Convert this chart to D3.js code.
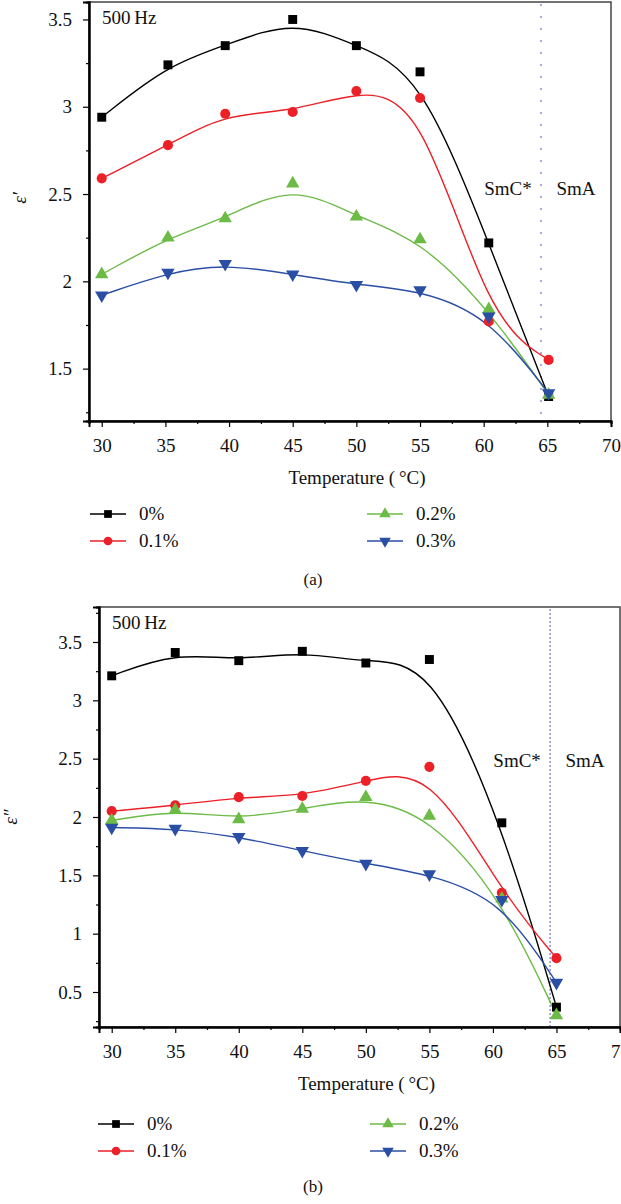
<!DOCTYPE html>
<html><head><meta charset="utf-8">
<script src="https://cdn.jsdelivr.net/npm/d3@7"></script>
<style>
html,body{margin:0;padding:0;background:#fff;}
svg{display:block;font-family:"Liberation Serif","DejaVu Serif",serif;}
</style></head>
<body>
<svg id="chart" width="621" height="1204"></svg>
<script>
// ---------- DATA ----------
const seriesNames = ["0%", "0.1%", "0.2%", "0.3%"];
const seriesColors = ["#000000", "#ec2027", "#6cbb47", "#2b4ea5"];

// panel (a) : epsilon'
const tempA = [30, 35.2, 39.7, 45, 50, 55, 60.4, 65.1];
const epsA_0  = [2.94, 3.24, 3.35, 3.50, 3.35, 3.20, 2.22, 1.34];
const epsA_01 = [2.59, 2.78, 2.96, 2.97, 3.09, 3.05, 1.77, 1.55];
const epsA_02 = [2.04, 2.25, 2.36, 2.56, 2.37, 2.24, 1.84, 1.35];
const epsA_03 = [1.92, 2.05, 2.10, 2.04, 1.98, 1.95, 1.80, 1.36];

// panel (b) : epsilon''
const tempB = [30, 35, 40, 45, 50, 55, 60.7, 65];
const epsB_0  = [3.21, 3.41, 3.34, 3.42, 3.32, 3.35, 1.95, 0.37];
const epsB_01 = [2.05, 2.10, 2.17, 2.18, 2.31, 2.43, 1.35, 0.79];
const epsB_02 = [1.97, 2.06, 1.98, 2.07, 2.17, 2.01, 1.30, 0.30];
const epsB_03 = [1.91, 1.90, 1.83, 1.71, 1.60, 1.51, 1.29, 0.58];

// ticks
const xTicks = [30, 35, 40, 45, 50, 55, 60, 65, 70];
const xMinorTicks = [32.5, 37.5, 42.5, 47.5, 52.5, 57.5, 62.5, 67.5];
const yTicksA = [1.5, 2, 2.5, 3, 3.5];
const yMinorA = [1.25, 1.75, 2.25, 2.75, 3.25];
const yTicksB = [0.5, 1, 1.5, 2, 2.5, 3, 3.5];
const yMinorB = [0.25, 0.75, 1.25, 1.75, 2.25, 2.75, 3.25, 3.75];

const transitionTemp = 64.5;
const freqLabel = "500\u2009Hz";
const xTitle = "Temperature (\u2009\u00B0C)";

// ---------- DRAW ----------
const svg = d3.select("#chart");
const FS = 19;

const shapes = [
  {type: d3.symbolSquare, size: 80, rot: 0},
  {type: d3.symbolCircle, size: 80, rot: 0},
  {type: d3.symbolTriangle, size: 78, rot: 0},
  {type: d3.symbolTriangle, size: 78, rot: 180}
];

function drawPanel(cfg) {
  const x = d3.scaleLinear().domain([29, 70]).range([cfg.left, cfg.right]);
  const y = d3.scaleLinear().domain(cfg.yDomain).range([cfg.bottom, cfg.top]);
  const g = svg.append("g");

  // frame
  g.append("rect").attr("x", cfg.left).attr("y", cfg.top)
    .attr("width", cfg.right - cfg.left).attr("height", cfg.bottom - cfg.top)
    .attr("fill", "none").attr("stroke", "#444").attr("stroke-width", 1.5);

  // transition dotted line
  g.append("line")
    .attr("x1", x(transitionTemp)).attr("x2", x(transitionTemp))
    .attr("y1", cfg.top + 2).attr("y2", cfg.bottom)
    .attr("stroke", "#7a72c6").attr("stroke-width", 1.2)
    .attr("stroke-dasharray", cfg.dash);

  // axes
  const xAx = g.append("g").attr("transform", `translate(0,${cfg.bottom})`)
    .call(d3.axisBottom(x).tickValues(xTicks).tickSize(6).tickPadding(12).tickFormat(d3.format("d")));
  const xMin = g.append("g").attr("transform", `translate(0,${cfg.bottom})`)
    .call(d3.axisBottom(x).tickValues(xMinorTicks).tickSize(3).tickFormat(""));
  const yAx = g.append("g").attr("transform", `translate(${cfg.left},0)`)
    .call(d3.axisLeft(y).tickValues(cfg.yTicks).tickSize(6).tickPadding(11).tickFormat(d3.format("~g")));
  const yMin = g.append("g").attr("transform", `translate(${cfg.left},0)`)
    .call(d3.axisLeft(y).tickValues(cfg.yMinor).tickSize(3).tickFormat(""));
  [xAx, xMin, yAx, yMin].forEach(a => {
    a.select(".domain").attr("stroke", "#000").attr("stroke-width", 2);
    a.selectAll(".tick line").attr("stroke", "#000").attr("stroke-width", 1.2);
    a.selectAll("text").attr("font-family", "Liberation Serif, serif")
      .attr("font-size", FS).attr("fill", "#111");
  });

  // series
  cfg.series.forEach((vals, i) => {
    const pts = cfg.temps.map((t, j) => [t, vals[j]]);
    const line = d3.line().x(d => x(d[0])).y(d => y(d[1])).curve(d3.curveBasis);
    g.append("path").datum(pts).attr("d", line)
      .attr("fill", "none").attr("stroke", seriesColors[i]).attr("stroke-width", 1.4);
  });
  cfg.series.forEach((vals, i) => {
    const s = shapes[i];
    const sym = d3.symbol().type(s.type).size(s.size);
    g.selectAll(null).data(cfg.temps.map((t, j) => [t, vals[j]])).enter()
      .append("path").attr("d", sym)
      .attr("transform", d => `translate(${x(d[0])},${y(d[1])}) rotate(${s.rot})`)
      .attr("fill", seriesColors[i]);
  });

  // texts
  g.append("text").attr("x", cfg.left + 13).attr("y", cfg.top + 22)
    .attr("font-size", FS).attr("fill", "#111").text(freqLabel);
  g.append("text").attr("x", x(transitionTemp) - 33).attr("y", cfg.phaseY)
    .attr("text-anchor", "middle").attr("font-size", FS).attr("fill", "#111").text("SmC*");
  g.append("text").attr("x", (x(transitionTemp) + cfg.right) / 2).attr("y", cfg.phaseY)
    .attr("text-anchor", "middle").attr("font-size", FS).attr("fill", "#111").text("SmA");

  // y label
  g.append("text").attr("transform", `translate(${cfg.yLabX},${cfg.yLabY}) rotate(-90)`)
    .attr("text-anchor", "middle").attr("font-size", FS).attr("font-style", "italic")
    .attr("fill", "#111").text(cfg.yLabel);

  // x title
  g.append("text").attr("x", (cfg.left + cfg.right) / 2 + 7).attr("y", cfg.bottom + 63)
    .attr("text-anchor", "middle").attr("font-size", FS).attr("fill", "#111").text(xTitle);

  // legend
  const legPos = [
    {lx: cfg.legL, row: 0}, {lx: cfg.legL, row: 1},
    {lx: cfg.legR, row: 0}, {lx: cfg.legR, row: 1}
  ];
  seriesNames.forEach((nm, i) => {
    const p = legPos[i];
    const ly = cfg.legY + p.row * 27;
    g.append("line").attr("x1", p.lx).attr("x2", p.lx + 36).attr("y1", ly).attr("y2", ly)
      .attr("stroke", seriesColors[i]).attr("stroke-width", 1.4);
    const s = shapes[i];
    g.append("path").attr("d", d3.symbol().type(s.type).size(s.size * 0.75))
      .attr("transform", `translate(${p.lx + 18},${ly}) rotate(${s.rot})`)
      .attr("fill", seriesColors[i]);
    g.append("text").attr("x", p.lx + 49).attr("y", ly + 6)
      .attr("font-size", FS).attr("fill", "#111").text(nm);
  });

  // panel label
  g.append("text").attr("x", 313).attr("y", cfg.panelY)
    .attr("text-anchor", "middle").attr("font-size", 17).attr("fill", "#111").text(cfg.panelLabel);
}

drawPanel({
  left: 89, right: 611, top: 2, bottom: 421,
  yDomain: [1.2, 3.6], yTicks: yTicksA, yMinor: yMinorA,
  temps: tempA, series: [epsA_0, epsA_01, epsA_02, epsA_03],
  dash: "2,10", phaseY: 195, yLabel: "\u03B5\u2032", yLabX: 26, yLabY: 198,
  legL: 90, legR: 367, legY: 514, panelY: 585, panelLabel: "(a)"
});

drawPanel({
  left: 99, right: 620, top: 607, bottom: 1027,
  yDomain: [0.2, 3.8], yTicks: yTicksB, yMinor: yMinorB,
  temps: tempB, series: [epsB_0, epsB_01, epsB_02, epsB_03],
  dash: "2,2", phaseY: 767, yLabel: "\u03B5\u2033", yLabX: 17, yLabY: 817,
  legL: 98, legR: 370, legY: 1124, panelY: 1192, panelLabel: "(b)"
});
</script>
</body></html>
